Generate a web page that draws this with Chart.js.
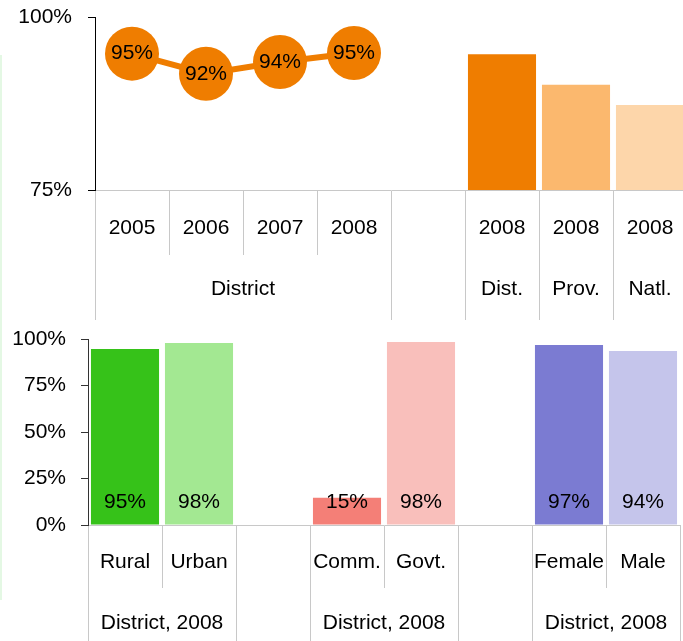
<!DOCTYPE html>
<html>
<head>
<meta charset="utf-8">
<script src="https://cdn.jsdelivr.net/npm/chart.js@4.4.0/dist/chart.umd.min.js"></script>
<style>
  body { margin: 0; background: #fff; overflow: hidden; }
  #page { position: relative; width: 683px; height: 641px; overflow: hidden; }
  #edge { position: absolute; left: 0; top: 55px; width: 2px; height: 545px; background: #e4f8e4; }
  #topChart { position: absolute; left: 0; top: 0; }
  #bottomChart { position: absolute; left: 0; top: 320px; }
</style>
</head>
<body>
<div id="page">
  <div id="edge"></div>
  <canvas id="topChart" width="687" height="320"></canvas>
  <canvas id="bottomChart" width="683" height="321"></canvas>
</div>
<script>
// top panel: district trend 2005-2008 (line) and 2008 comparison (bars)
var topLabels = ['2005', '2006', '2007', '2008', '', '2008', '2008', '2008'];
var topTrend = [94.7, 91.8, 93.5, 94.8, null, null, null, null];
var topCompare = [null, null, null, null, null, 94.6, 90.2, 87.3];
var topCompareColors = ['#EF7D00', '#EF7D00', '#EF7D00', '#EF7D00', '#EF7D00', '#EF7D00', '#FBB86E', '#FDD6AA'];
var topGroups = ['District', '', 'Dist.', 'Prov.', 'Natl.'];
var topGroupSizes = [4, 1, 1, 1, 1];
var topTicks = [75, 100];

// bottom panel: location / school type / sex, district 2008
var bottomLabels = ['Rural', 'Urban', '', 'Comm.', 'Govt.', '', 'Female', 'Male'];
var bottomValues = [94.6, 97.8, null, 14.6, 98.4, null, 96.8, 93.6];
var bottomColors = ['#36C219', '#A3E892', '#fff', '#F47F77', '#F9BFBB', '#fff', '#7B7BD2', '#C5C5EB'];
var bottomGroups = ['District, 2008', '', 'District, 2008', '', 'District, 2008'];
var bottomGroupSizes = [2, 1, 2, 1, 2];
var bottomTicks = [0, 25, 50, 75, 100];

Chart.defaults.font.family = '"Liberation Sans", Arial, sans-serif';
Chart.defaults.font.size = 21;
Chart.defaults.color = '#000';

var gridGrey = '#c8c8c8';

// draws the % value on every point / bar
var valueLabels = {
  id: 'valueLabels',
  afterDatasetsDraw: function(chart) {
    var ctx = chart.ctx;
    ctx.save();
    ctx.font = '21px "Liberation Sans", Arial, sans-serif';
    ctx.fillStyle = '#000';
    ctx.textAlign = 'center';
    ctx.textBaseline = 'middle';
    chart.data.datasets.forEach(function(ds, i) {
      var meta = chart.getDatasetMeta(i);
      meta.data.forEach(function(el, j) {
        var v = ds.data[j];
        if (v == null) return;
        var y = meta.type === 'line' ? el.y : el.base - 22;
        ctx.fillText(Math.round(v) + '%', el.x, y);
      });
    });
    ctx.restore();
  }
};

function noPadding(s) {
  s.paddingTop = 0; s.paddingBottom = 0; s.paddingLeft = 0; s.paddingRight = 0;
}

// first row of the category axis (one cell per category)
function rowAxis(rowHeight, pad) {
  return {
    type: 'category', position: 'bottom', weight: 0, offset: true,
    afterFit: function(s) { s.height = rowHeight; noPadding(s); },
    border: { display: true, color: gridGrey, width: 1 },
    grid: { offset: true, drawOnChartArea: false, tickLength: rowHeight, tickColor: gridGrey, tickWidth: 1 },
    ticks: { autoSkip: false, maxRotation: 0, padding: pad }
  };
}

// second row: group labels spanning several categories
function groupAxis(names, sizes, rowHeight, pad) {
  var centers = [], edges = [-0.5], pos = -0.5;
  sizes.forEach(function(s) { centers.push(pos + s / 2); pos += s; edges.push(pos); });
  var ticks = edges.concat(centers).sort(function(a, b) { return a - b; });
  return {
    type: 'linear', position: 'bottom', weight: 1,
    min: -0.5, max: pos, bounds: 'data', offset: false,
    afterBuildTicks: function(scale) { scale.ticks = ticks.map(function(v) { return { value: v }; }); },
    afterFit: function(s) { s.height = rowHeight; noPadding(s); },
    border: { display: false },
    grid: {
      offset: false, drawOnChartArea: false, tickLength: rowHeight, tickWidth: 1,
      tickColor: function(c) { return c.tick && edges.indexOf(c.tick.value) >= 0 ? gridGrey : 'rgba(0,0,0,0)'; }
    },
    ticks: {
      autoSkip: false, maxRotation: 0, padding: pad,
      callback: function(v) { var i = centers.indexOf(v); return i >= 0 ? names[i] : ''; }
    }
  };
}

function valueAxis(min, max, tickValues, width, axisColor, pad) {
  return {
    min: min, max: max,
    afterBuildTicks: function(scale) { scale.ticks = tickValues.map(function(v) { return { value: v }; }); },
    afterFit: function(s) { s.width = width; noPadding(s); },
    border: { color: axisColor, width: 1 },
    grid: { drawOnChartArea: false, tickLength: 7, tickColor: axisColor },
    ticks: { padding: pad, callback: function(v) { return v + '%'; } }
  };
}

new Chart(document.getElementById('topChart'), {
  type: 'bar',
  data: {
    labels: topLabels,
    datasets: [
      {
        type: 'line',
        data: topTrend,
        borderColor: '#EF7D00',
        borderWidth: 6,
        pointRadius: 27,
        pointBackgroundColor: '#EF7D00',
        pointBorderWidth: 0,
        clip: false
      },
      {
        data: topCompare,
        backgroundColor: topCompareColors,
        barPercentage: 0.92,
        categoryPercentage: 1
      }
    ]
  },
  options: {
    responsive: false,
    animation: false,
    layout: { autoPadding: false, padding: { top: 17, right: 0, bottom: 0, left: 0 } },
    plugins: { legend: { display: false }, tooltip: { enabled: false } },
    scales: {
      x: rowAxis(65, -39),
      x2: groupAxis(topGroups, topGroupSizes, 65, -43),
      y: valueAxis(75, 100, topTicks, 95, '#000', 16)
    }
  },
  plugins: [valueLabels]
});

new Chart(document.getElementById('bottomChart'), {
  type: 'bar',
  data: {
    labels: bottomLabels,
    datasets: [
      {
        data: bottomValues,
        backgroundColor: bottomColors,
        barPercentage: 0.92,
        categoryPercentage: 1
      }
    ]
  },
  options: {
    responsive: false,
    animation: false,
    layout: { autoPadding: false, padding: { top: 19, right: 3, bottom: 0, left: 0 } },
    plugins: { legend: { display: false }, tooltip: { enabled: false } },
    scales: {
      x: rowAxis(63, -38),
      x2: groupAxis(bottomGroups, bottomGroupSizes, 53, -30),
      y: valueAxis(0, 100, bottomTicks, 88, '#333', 15)
    }
  },
  plugins: [valueLabels]
});
</script>
</body>
</html>
